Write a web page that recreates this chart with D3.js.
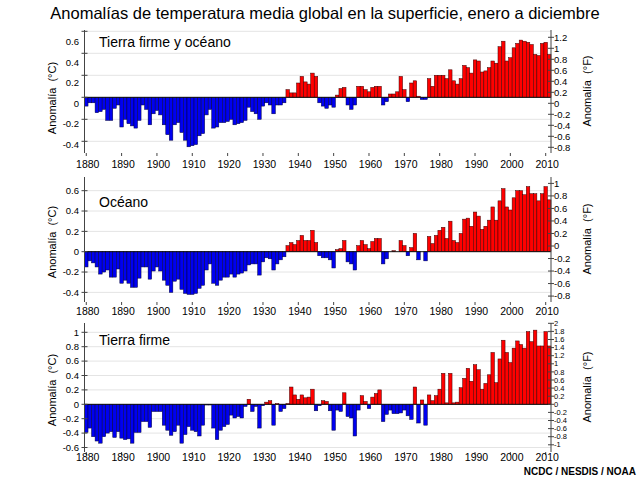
<!DOCTYPE html>
<html>
<head>
<meta charset="utf-8">
<script src="https://cdn.jsdelivr.net/npm/d3@7"></script>
<style>
  body { margin: 0; background: #fff; }
  svg { display: block; font-family: "Liberation Sans", Arial, sans-serif; }
</style>
</head>
<body>
<svg id="chart" width="640" height="480"></svg>
<script>
// Years shown on every panel (1880 .. 2011)
const years = d3.range(1880, 2012);
const decadeLabels = [1880, 1890, 1900, 1910, 1920, 1930, 1940, 1950, 1960, 1970, 1980, 1990, 2000, 2010];

// Annual anomalies (°C)
const landOcean = [
  -0.08, -0.05, -0.05, -0.14, -0.13, -0.11, -0.21, -0.21, -0.10, -0.07,
  -0.27, -0.20, -0.24, -0.26, -0.28, -0.21, -0.07, -0.11, -0.25, -0.15,
  -0.12, -0.16, -0.25, -0.34, -0.39, -0.25, -0.23, -0.32, -0.39, -0.45,
  -0.44, -0.43, -0.35, -0.33, -0.16, -0.11, -0.28, -0.27, -0.23, -0.23,
  -0.22, -0.20, -0.25, -0.24, -0.23, -0.21, -0.09, -0.13, -0.15, -0.20,
  -0.08, -0.05, -0.07, -0.15, -0.07, -0.07, -0.05, 0.07, 0.04, 0.04,
  0.13, 0.19, 0.14, 0.12, 0.22, 0.19, -0.05, -0.08, -0.10, -0.07,
  -0.09, 0.02, 0.08, 0.09, -0.07, -0.11, -0.07, 0.10, 0.10, 0.07,
  0.05, 0.09, 0.10, 0.10, -0.07, -0.04, 0.03, 0.03, 0.05, 0.19,
  0.07, -0.04, 0.13, 0.15, 0.01, -0.02, -0.02, 0.17, 0.10, 0.20,
  0.20, 0.20, 0.17, 0.25, 0.15, 0.12, 0.17, 0.29, 0.27, 0.22,
  0.34, 0.33, 0.23, 0.24, 0.27, 0.33, 0.31, 0.46, 0.51, 0.33,
  0.36, 0.45, 0.49, 0.52, 0.51, 0.50, 0.48, 0.39, 0.38, 0.49,
  0.50, 0.39
];

const ocean = [
  -0.15, -0.09, -0.11, -0.15, -0.22, -0.20, -0.18, -0.25, -0.25, -0.17,
  -0.31, -0.28, -0.31, -0.35, -0.35, -0.26, -0.15, -0.15, -0.27, -0.19,
  -0.15, -0.19, -0.28, -0.33, -0.40, -0.29, -0.27, -0.37, -0.41, -0.42,
  -0.42, -0.41, -0.36, -0.33, -0.18, -0.12, -0.31, -0.33, -0.28, -0.25,
  -0.25, -0.22, -0.25, -0.22, -0.21, -0.19, -0.13, -0.12, -0.12, -0.23,
  -0.10, -0.06, -0.07, -0.18, -0.12, -0.08, -0.05, 0.06, 0.09, 0.07,
  0.11, 0.16, 0.11, 0.11, 0.21, 0.09, -0.04, -0.06, -0.06, -0.08,
  -0.16, 0.02, 0.03, 0.11, -0.10, -0.12, -0.18, 0.06, 0.11, 0.07,
  0.03, 0.10, 0.13, 0.13, -0.12, -0.07, 0.00, 0.01, 0.00, 0.11,
  0.06, -0.04, 0.04, 0.18, -0.08, 0.00, -0.09, 0.15, 0.08, 0.16,
  0.21, 0.24, 0.13, 0.30, 0.11, 0.09, 0.18, 0.32, 0.33, 0.25,
  0.39, 0.35, 0.22, 0.25, 0.31, 0.44, 0.31, 0.50, 0.62, 0.44,
  0.41, 0.53, 0.60, 0.60, 0.56, 0.64, 0.57, 0.57, 0.50, 0.57,
  0.64, 0.51
];

const land = [
  -0.39, -0.33, -0.45, -0.51, -0.54, -0.45, -0.40, -0.38, -0.46, -0.38,
  -0.47, -0.49, -0.48, -0.54, -0.39, -0.39, -0.24, -0.24, -0.32, -0.10,
  -0.10, -0.10, -0.29, -0.36, -0.43, -0.38, -0.29, -0.54, -0.42, -0.31,
  -0.36, -0.38, -0.44, -0.29, -0.01, -0.01, -0.33, -0.49, -0.36, -0.31,
  -0.28, -0.15, -0.19, -0.17, -0.19, -0.03, 0.07, -0.10, -0.03, -0.33,
  -0.02, 0.03, 0.05, -0.29, 0.01, -0.10, -0.06, 0.01, 0.24, 0.13,
  0.07, 0.13, 0.09, 0.10, 0.21, -0.09, -0.02, 0.05, 0.04, -0.09,
  -0.36, -0.08, -0.10, 0.16, -0.17, -0.19, -0.44, -0.08, 0.12, 0.04,
  -0.06, 0.10, 0.15, 0.20, -0.24, -0.14, -0.08, -0.13, -0.13, -0.12,
  -0.08, -0.16, -0.21, 0.24, -0.26, 0.06, -0.29, 0.13, 0.05, 0.12,
  0.21, 0.43, 0.02, 0.43, 0.02, 0.03, 0.23, 0.36, 0.50, 0.32,
  0.55, 0.48, 0.21, 0.29, 0.41, 0.72, 0.30, 0.63, 0.89, 0.72,
  0.58, 0.78, 0.88, 0.83, 0.78, 1.01, 0.87, 1.03, 0.81, 0.81,
  1.01, 0.81
];

// Axis tick labels
const ticksC1 = [-0.4, -0.2, 0, 0.2, 0.4, 0.6];
const ticksF1 = [-0.8, -0.6, -0.4, -0.2, 0, 0.2, 0.4, 0.6, 0.8, 1, 1.2];
const ticksC2 = [-0.4, -0.2, 0, 0.2, 0.4, 0.6];
const ticksF2 = [-0.8, -0.6, -0.4, -0.2, 0, 0.2, 0.4, 0.6, 0.8, 1];
const ticksC3 = [-0.6, -0.4, -0.2, 0, 0.2, 0.4, 0.6, 0.8, 1];
const ticksF3 = [-1, -0.8, -0.6, -0.4, -0.2, 0, 0.2, 0.4, 0.6, 0.8, 1, 1.2, 1.4, 1.6, 1.8, 2];

const chartTitle = "Anomalías de temperatura media global en la superficie, enero a diciembre";
const panelTitles = ["Tierra firme y océano", "Océano", "Tierra firme"];

// Layout of each panel (pixel positions)
const left = 84.5, right = 551;
const panels = [
  { title: panelTitles[0], values: landOcean, top: 30, bottom: 153, zero: 97.3, k: 110,
    cTicks: ticksC1, fTicks: ticksF1, cLab: [103.3, 102.7], fLab: [103.3, 55], fSize: 9.5,
    titleY: 47, yearY: 168, cTitleY: 98, fTitleY: 91 },
  { title: panelTitles[1], values: ocean, top: 177, bottom: 302, zero: 251.7, k: 101.7,
    cTicks: ticksC2, fTicks: ticksF2, cLab: [251.7, 101.7], fLab: [246, 62.6], fSize: 9.5,
    titleY: 207, yearY: 315, cTitleY: 242, fTitleY: 239 },
  { title: panelTitles[2], values: land, top: 323, bottom: 452, zero: 404.3, k: 72,
    cTicks: ticksC3, fTicks: ticksF3, cLab: [404.3, 72], fLab: [404.3, 40.5], fSize: 7.5,
    titleY: 345, yearY: 461, cTitleY: 390, fTitleY: 387 }
];

const svg = d3.select("#chart");

svg.append("rect").attr("width", 640).attr("height", 480).attr("fill", "#fff");

svg.append("text")
  .attr("x", 325)
  .attr("y", 19)
  .attr("text-anchor", "middle")
  .attr("font-size", "16.5px")
  .attr("fill", "#000")
  .text(chartTitle);

const x = d3.scaleBand().domain(years).range([left, right]).paddingInner(0);

panels.forEach(p => renderPanel(p));

function renderPanel(p) {
  const g = svg.append("g");
  const y = d3.scaleLinear().domain([0, 1]).range([p.zero, p.zero - p.k]);
  const yLabC = d3.scaleLinear().domain([0, 1]).range([p.cLab[0], p.cLab[0] - p.cLab[1]]);
  const yLabF = d3.scaleLinear().domain([0, 1]).range([p.fLab[0], p.fLab[0] - p.fLab[1]]);
  const fmt = d => String(+d.toFixed(1));

  // light grid lines
  g.selectAll("line.grid")
    .data(p.cTicks.filter(t => t !== 0))
    .enter()
    .append("line")
    .attr("class", "grid")
    .attr("x1", left).attr("x2", right)
    .attr("y1", d => y(d)).attr("y2", d => y(d))
    .attr("stroke", "#e4e4e4")
    .attr("stroke-width", 1);

  // bars
  g.selectAll("rect.bar")
    .data(years.map((yr, i) => ({ yr, v: p.values[i] })))
    .enter()
    .append("rect")
    .attr("class", "bar")
    .attr("x", d => x(d.yr))
    .attr("width", x.bandwidth())
    .attr("y", d => Math.min(y(d.v), y(0)))
    .attr("height", d => Math.abs(y(d.v) - y(0)))
    .attr("fill", d => (d.v >= 0 ? "#ff0000" : "#0000f0"))
    .attr("stroke", d => (d.v >= 0 ? "#3a0000" : "#00003a"))
    .attr("stroke-width", 0.5);

  // zero line
  g.append("line")
    .attr("x1", left).attr("x2", right)
    .attr("y1", y(0)).attr("y2", y(0))
    .attr("stroke", "#111")
    .attr("stroke-width", 1);

  // axis lines
  [left, right].forEach(ax => {
    g.append("line")
      .attr("x1", ax).attr("x2", ax)
      .attr("y1", p.top).attr("y2", p.bottom)
      .attr("stroke", "#444")
      .attr("stroke-width", 1);
  });

  // left ticks and labels (°C)
  g.selectAll("line.ctick")
    .data(p.cTicks)
    .enter()
    .append("line")
    .attr("x1", left - 3).attr("x2", left + 3)
    .attr("y1", d => y(d)).attr("y2", d => y(d))
    .attr("stroke", "#444");

  g.selectAll("text.clab")
    .data(p.cTicks)
    .enter()
    .append("text")
    .attr("x", 79)
    .attr("y", d => yLabC(d))
    .attr("dy", "0.35em")
    .attr("text-anchor", "end")
    .attr("font-size", "9.5px")
    .text(fmt);

  // right ticks and labels (°F)
  g.selectAll("line.ftick")
    .data(p.fTicks)
    .enter()
    .append("line")
    .attr("x1", right - 3).attr("x2", right + 3)
    .attr("y1", d => yLabF(d)).attr("y2", d => yLabF(d))
    .attr("stroke", "#444");

  g.selectAll("text.flab")
    .data(p.fTicks)
    .enter()
    .append("text")
    .attr("x", 554)
    .attr("y", d => yLabF(d))
    .attr("dy", "0.35em")
    .attr("text-anchor", "start")
    .attr("font-size", p.fSize + "px")
    .text(fmt);

  // decade ticks and labels
  g.selectAll("line.xtick")
    .data(decadeLabels)
    .enter()
    .append("line")
    .attr("x1", d => x(d) + x.bandwidth() / 2).attr("x2", d => x(d) + x.bandwidth() / 2)
    .attr("y1", p.bottom).attr("y2", p.bottom + 3)
    .attr("stroke", "#444");

  g.selectAll("text.xlab")
    .data(decadeLabels)
    .enter()
    .append("text")
    .attr("x", d => x(d) + x.bandwidth() / 2 + 1.5)
    .attr("y", p.yearY)
    .attr("text-anchor", "middle")
    .attr("font-size", "10.5px")
    .text(d => d);

  // panel title
  g.append("text")
    .attr("x", 99)
    .attr("y", p.titleY)
    .attr("font-size", "14px")
    .text(p.title);

  // axis titles
  g.append("text")
    .attr("transform", `translate(56, ${p.cTitleY}) rotate(-90)`)
    .attr("text-anchor", "middle")
    .attr("font-size", "11px")
    .attr("xml:space", "preserve")
    .text("Anomalía  (°C)");

  g.append("text")
    .attr("transform", `translate(591, ${p.fTitleY}) rotate(-90)`)
    .attr("text-anchor", "middle")
    .attr("font-size", "11px")
    .attr("xml:space", "preserve")
    .text("Anomalía  (°F)");
}

svg.append("text")
  .attr("x", 636)
  .attr("y", 475)
  .attr("text-anchor", "end")
  .attr("font-size", "10px")
  .attr("font-weight", "bold")
  .text("NCDC / NESDIS / NOAA");
</script>
</body>
</html>
